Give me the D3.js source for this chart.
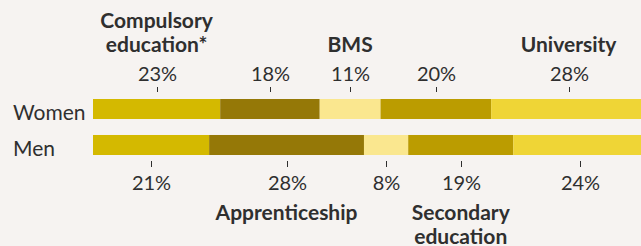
<!DOCTYPE html>
<html><head><meta charset="utf-8">
<script src="https://cdn.jsdelivr.net/npm/d3@7"></script>
<style>
html,body{margin:0;padding:0;background:#f6f3f1;}
svg{display:block;font-family:Lato,"Open Sans",sans-serif;}
</style></head>
<body><svg id="c" width="641" height="246"></svg>
<script>
const categories = ["Compulsory education*", "Apprenticeship", "BMS", "Secondary education", "University"];
const groups = ["Women", "Men"];
const women = [23, 18, 11, 20, 28];
const men = [21, 28, 8, 19, 24];
const colors = ["#d4b900", "#957807", "#fae78f", "#bb9c00", "#efd536"];

const svg = d3.select("#c");
const x = d3.scaleLinear().domain([0, 100]).range([93, 646]);
const y = d3.scaleBand().domain(groups).range([99, 155]).paddingInner(0.444).paddingOuter(0);
const ink = "#2f2f2f";

function stack(vals) {
  let c = 0;
  return vals.map((v, i) => { const s = c; c += v; return {i, v, s, e: c}; });
}
const series = {Women: stack(women), Men: stack(men)};

groups.forEach(g => {
  svg.append("g").selectAll("rect").data(series[g]).join("rect")
    .attr("x", d => x(d.s)).attr("y", y(g))
    .attr("width", d => x(d.e) - x(d.s)).attr("height", y.bandwidth())
    .attr("fill", d => colors[d.i]);
  svg.append("text").attr("x", 13).attr("y", y(g) + y.bandwidth() + 0.5)
    .attr("font-size", 21).attr("fill", ink).text(g);
});

const wTop = y("Women");
const wg = svg.append("g");
series.Women.forEach(d => {
  const cx = Math.round(x((d.s + d.e) / 2)) + 0.5;
  wg.append("line").attr("x1", cx).attr("x2", cx).attr("y1", wTop - 12).attr("y2", wTop - 7)
    .attr("stroke", ink).attr("stroke-width", 1);
  wg.append("text").attr("x", cx).attr("y", wTop - 18).attr("text-anchor", "middle")
    .attr("font-size", 20).attr("fill", ink).text(d.v + "%");
});
const mBot = y("Men") + y.bandwidth();
series.Men.forEach(d => {
  const cx = Math.round(x((d.s + d.e) / 2)) + 0.5;
  wg.append("line").attr("x1", cx).attr("x2", cx).attr("y1", mBot + 6).attr("y2", mBot + 12)
    .attr("stroke", ink).attr("stroke-width", 1);
  wg.append("text").attr("x", cx).attr("y", mBot + 34.5).attr("text-anchor", "middle")
    .attr("font-size", 20).attr("fill", ink).text(d.v + "%");
});

function catLabel(i, top) {
  const d = top ? series.Women[i] : series.Men[i];
  const cx = x((d.s + d.e) / 2);
  const words = categories[i].split(" ");
  const lh = 23.5;
  const t = svg.append("text").attr("text-anchor", "middle").attr("font-size", 21)
    .attr("font-weight", "bold").attr("fill", ink);
  if (top) {
    const base = 51.5 - (words.length - 1) * lh;
    words.forEach((w, k) => t.append("tspan").attr("x", cx).attr("y", base + k * lh).text(w));
  } else {
    words.forEach((w, k) => t.append("tspan").attr("x", cx).attr("y", 220 + k * lh).text(w));
  }
}
categories.forEach((c, i) => catLabel(i, i % 2 === 0));
</script></body></html>
